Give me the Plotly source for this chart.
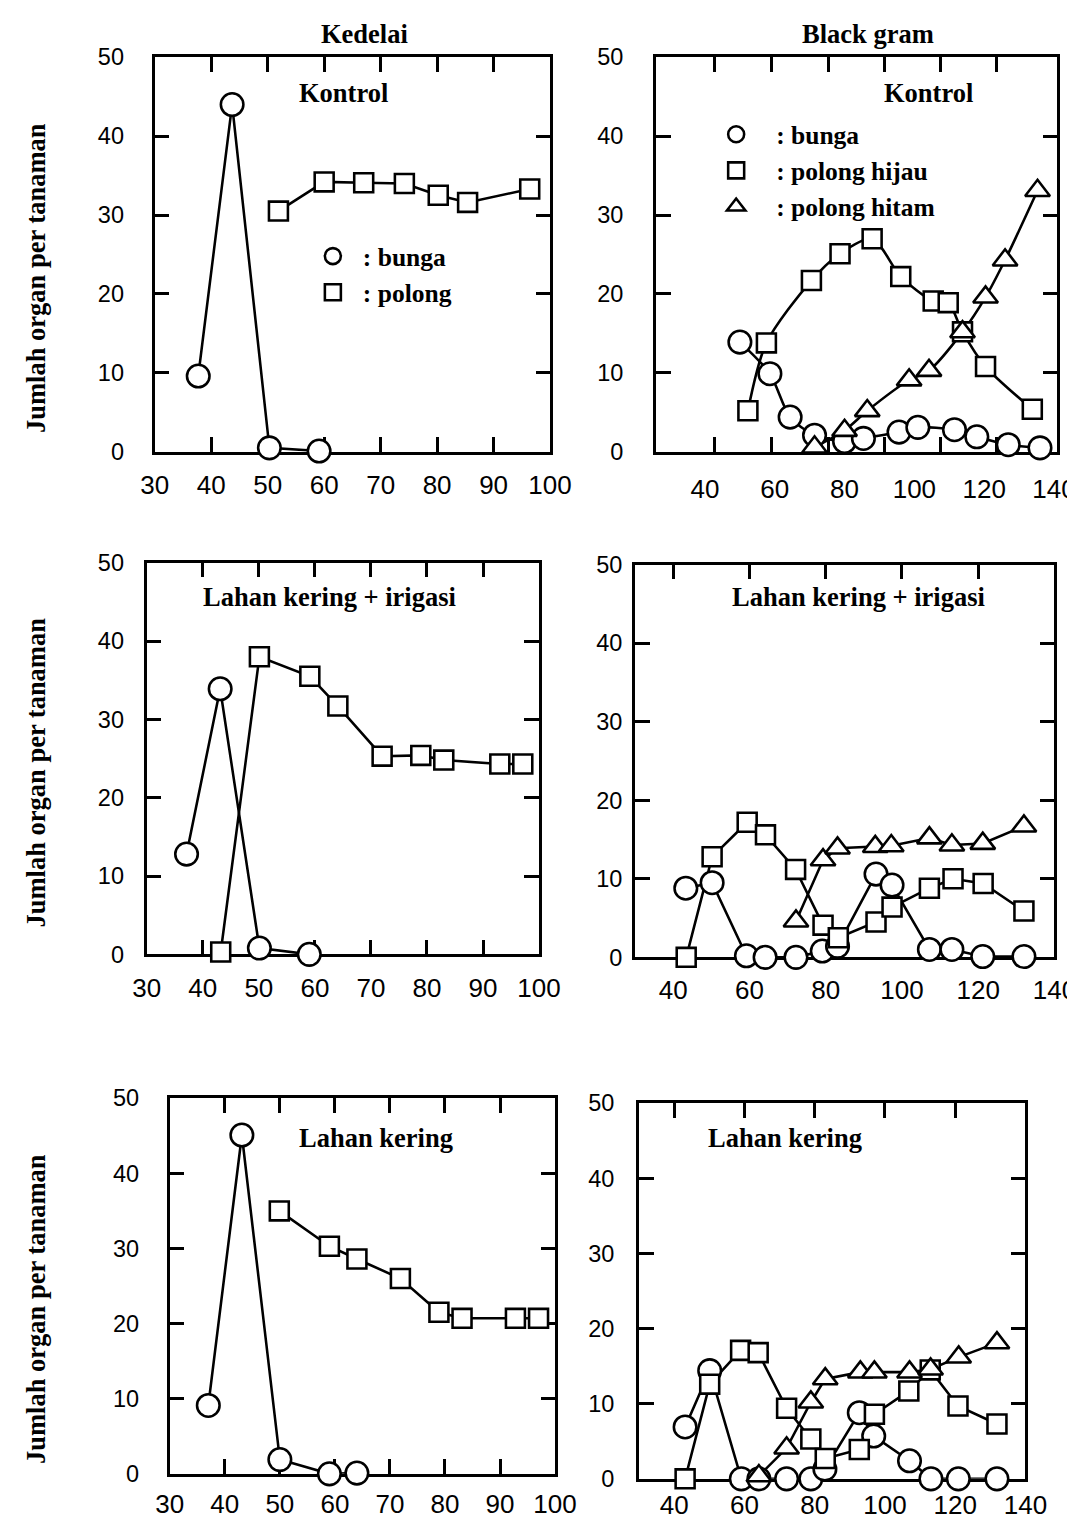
import plotly.graph_objects as go

# figure placed inside the default 8 px page margin
PAD = 8
W, H = 1115, 1535
# measured mapping of page pixels onto the photographed picture
SX, OX, SY, OY = 0.967, 12.6, 0.984, 10.9
S = 1.025  # size compensation for that mapping

# ---------------- data (days after planting vs organs per plant) ----------------
# Kedelai - Kontrol
kk_bunga_x = [37.7, 43.7, 50.3, 59.1]
kk_bunga_y = [9.6, 44.0, 0.5, 0.1]
kk_polong_x = [51.9, 60.0, 67.0, 74.2, 80.2, 85.4, 96.4]
kk_polong_y = [30.5, 34.2, 34.1, 34.0, 32.5, 31.6, 33.3]

# Black gram - Kontrol
bk_bunga_x = [50.0, 58.6, 64.4, 71.4, 80.0, 85.4, 95.6, 101.0, 111.5, 117.9, 126.9, 136.0]
bk_bunga_y = [13.9, 9.9, 4.4, 2.1, 1.3, 1.7, 2.5, 3.1, 2.8, 1.9, 0.9, 0.5]
bk_hijau_x = [52.3, 57.6, 70.5, 78.7, 87.9, 96.1, 105.4, 109.7, 113.8, 120.4, 133.8]
bk_hijau_y = [5.2, 13.8, 21.7, 25.1, 27.0, 22.2, 19.1, 18.9, 15.2, 10.8, 5.4]
bk_hitam_x = [71.4, 80.0, 86.5, 98.5, 104.2, 113.8, 120.4, 126.0, 135.3]
bk_hitam_y = [0.6, 2.7, 5.2, 9.1, 10.3, 15.2, 19.6, 24.3, 33.1]

# Kedelai - Lahan kering + irigasi
ki_bunga_x = [37.1, 43.1, 50.1, 59.0]
ki_bunga_y = [12.8, 33.9, 0.8, 0.0]
ki_polong_x = [43.2, 50.1, 59.1, 64.1, 72.0, 78.9, 83.0, 93.0, 97.1]
ki_polong_y = [0.3, 38.0, 35.5, 31.7, 25.3, 25.4, 24.8, 24.3, 24.3]

# Black gram - Lahan kering + irigasi
bi_bunga_x = [43.3, 50.2, 59.2, 64.1, 72.2, 79.1, 83.1, 93.2, 97.4, 107.2, 113.1, 121.2, 132.0]
bi_bunga_y = [8.8, 9.5, 0.2, 0.0, 0.0, 0.8, 1.4, 10.6, 9.2, 1.0, 1.0, 0.1, 0.1]
bi_hijau_x = [43.4, 50.2, 59.4, 64.2, 72.1, 79.3, 83.3, 93.2, 97.4, 107.2, 113.4, 121.3, 132.0]
bi_hijau_y = [0.0, 12.8, 17.2, 15.6, 11.2, 4.1, 2.5, 4.5, 6.4, 8.8, 10.0, 9.4, 5.9]
bi_hitam_x = [72.2, 79.3, 83.1, 93.0, 97.2, 107.2, 113.1, 121.2, 132.0]
bi_hitam_y = [4.6, 12.4, 13.9, 14.1, 14.2, 15.2, 14.3, 14.5, 16.7]

# Kedelai - Lahan kering
kl_bunga_x = [37.0, 43.1, 50.0, 59.0, 64.0]
kl_bunga_y = [9.1, 45.1, 1.9, 0.0, 0.1]
kl_polong_x = [49.9, 59.0, 64.0, 71.9, 78.9, 83.1, 92.8, 97.0]
kl_polong_y = [35.0, 30.3, 28.6, 26.0, 21.5, 20.7, 20.7, 20.7]

# Black gram - Lahan kering
bl_bunga_x = [43.1, 50.1, 59.1, 64.1, 72.0, 78.9, 82.9, 92.7, 96.8, 107.0, 113.1, 120.9, 131.9]
bl_bunga_y = [6.9, 14.4, 0.0, 0.0, 0.0, 0.0, 1.3, 8.8, 5.7, 2.4, 0.0, 0.0, 0.0]
bl_hijau_x = [43.1, 50.1, 58.9, 63.9, 72.0, 78.9, 83.0, 92.7, 97.0, 106.8, 112.9, 120.8, 131.9]
bl_hijau_y = [0.0, 12.6, 17.1, 16.8, 9.4, 5.3, 2.7, 3.9, 8.6, 11.7, 14.5, 9.7, 7.3]
bl_hitam_x = [64.1, 72.0, 78.9, 83.0, 93.0, 97.0, 107.0, 113.0, 121.0, 131.9]
bl_hitam_y = [0.4, 4.1, 10.2, 13.3, 14.2, 14.2, 14.2, 14.6, 16.2, 18.1]

# axis ticks / labels
kedelai_xlabels = [30, 40, 50, 60, 70, 80, 90, 100]
bg_xlabels = [40, 60, 80, 100, 120, 140]
bg_xticks = [40, 60, 80, 100, 120]
bg_kontrol_xticks = [42.8, 59.1, 75.3, 91.3, 107.5, 123.5]
y_vals = [0, 10, 20, 30, 40, 50]

col_titles = ["Kedelai", "Black gram"]
row_titles = ["Kontrol", "Lahan kering + irigasi", "Lahan kering"]
y_title = "Jumlah organ per tanaman"
names_kedelai = [": bunga", ": polong"]
names_bg = [": bunga", ": polong hijau", ": polong hitam"]

# ---------------- layout geometry (target picture pixels) ----------------
# panel frames: left, right, top, bottom
boxes = {
    1: (153, 548, 55, 450),
    2: (654, 1055, 55, 450),
    3: (145, 537, 561, 953),
    4: (633, 1052, 563, 956),
    5: (168, 553, 1097, 1473),
    6: (637, 1023, 1102, 1478),
}
xranges = {1: [30, 100], 2: [26, 141], 3: [30, 100], 4: [30, 140], 5: [30, 100], 6: [30, 140]}
ystandoff = {1: 23, 2: 25, 3: 15, 4: 5, 5: 23, 6: 17}
xstandoff = {1: 8, 3: 8, 4: 7, 5: 5, 6: 1}


def fx(p):
    return min(1.0, max(0.0, ((p - OX) / SX - PAD) / W))


def fy(q):
    return min(1.0, max(0.0, 1 - ((q - OY) / SY - PAD) / H))


SERIF = dict(family="Liberation Serif", size=26.5, color="black", weight="bold")
SANS_X = dict(family="Liberation Sans", size=26, color="black")
SANS_Y = dict(family="Liberation Sans", size=23.5, color="black")
LW = 2.5 * S
LINE = dict(color="black", width=LW)
MARK = {
    "circle": dict(symbol="circle", size=22 * S, color="white", line=dict(color="black", width=LW)),
    "square": dict(symbol="square", size=18.5 * S, color="white", line=dict(color="black", width=LW)),
    "triangle": dict(symbol="triangle-up", size=21 * S, color="white", line=dict(color="black", width=LW)),
}

fig = go.Figure()


def panel(series, xa, ya, mxa=None, spline=False, legend=None):
    mxa = mxa or xa
    for xs, ys, sym, nm in series:
        fig.add_trace(go.Scatter(
            x=xs, y=ys, mode="lines", xaxis=xa, yaxis=ya, showlegend=False,
            line=dict(LINE, shape="spline" if spline else "linear", smoothing=0.8),
            cliponaxis=False, hoverinfo="skip"))
    for xs, ys, sym, nm in series:
        fig.add_trace(go.Scatter(
            x=xs, y=ys, mode="markers", xaxis=mxa, yaxis=ya, name=nm,
            marker=MARK[sym], showlegend=legend is not None,
            legend=legend or "legend", cliponaxis=False))


panel([(kk_bunga_x, kk_bunga_y, "circle", names_kedelai[0]),
       (kk_polong_x, kk_polong_y, "square", names_kedelai[1])], "x", "y", legend="legend")
panel([(bk_bunga_x, bk_bunga_y, "circle", names_bg[0]),
       (bk_hijau_x, bk_hijau_y, "square", names_bg[1]),
       (bk_hitam_x, bk_hitam_y, "triangle", names_bg[2])], "x2", "y2", mxa="x7",
      spline=True, legend="legend2")
panel([(ki_bunga_x, ki_bunga_y, "circle", names_kedelai[0]),
       (ki_polong_x, ki_polong_y, "square", names_kedelai[1])], "x3", "y3")
panel([(bi_bunga_x, bi_bunga_y, "circle", names_bg[0]),
       (bi_hijau_x, bi_hijau_y, "square", names_bg[1]),
       (bi_hitam_x, bi_hitam_y, "triangle", names_bg[2])], "x4", "y4", mxa="x8")
panel([(kl_bunga_x, kl_bunga_y, "circle", names_kedelai[0]),
       (kl_polong_x, kl_polong_y, "square", names_kedelai[1])], "x5", "y5")
panel([(bl_bunga_x, bl_bunga_y, "circle", names_bg[0]),
       (bl_hijau_x, bl_hijau_y, "square", names_bg[1]),
       (bl_hitam_x, bl_hitam_y, "triangle", names_bg[2])], "x6", "y6", mxa="x9")

TICK = dict(ticklen=14.5, tickwidth=LW, tickcolor="black")
BASE = dict(showgrid=False, zeroline=False, fixedrange=True, layer="below traces")
FRAME = dict(showline=True, linecolor="black", linewidth=3.1)

layout = dict(
    width=W, height=H, margin=dict(l=0, r=0, t=0, b=0),
    paper_bgcolor="white", plot_bgcolor="white", showlegend=True,
)

for i in range(1, 7):
    l, r, t, b = boxes[i]
    xk = "xaxis" if i == 1 else f"xaxis{i}"
    yk = "yaxis" if i == 1 else f"yaxis{i}"
    xid = "x" if i == 1 else f"x{i}"
    yid = "y" if i == 1 else f"y{i}"
    layout[yk] = dict(BASE, **FRAME, domain=[fy(b), fy(t)], range=[0, 50], anchor=xid,
                      mirror="ticks", ticks="inside", tickvals=y_vals, tickfont=SANS_Y,
                      ticklabelstandoff=ystandoff[i], **TICK)
    xd = dict(BASE, **FRAME, domain=[fx(l), fx(r)], range=xranges[i], anchor=yid)
    if i % 2 == 1:
        xd.update(mirror="ticks", ticks="inside", tickvals=kedelai_xlabels,
                  tickfont=SANS_X, ticklabelstandoff=xstandoff[i], **TICK)
    elif i == 2:
        xd.update(mirror="ticks", ticks="inside", tickvals=bg_kontrol_xticks,
                  showticklabels=False, **TICK)
    else:
        xd.update(mirror=True, ticks="", tickvals=bg_xlabels, tickfont=SANS_X,
                  ticklabelstandoff=xstandoff[i])
    layout[xk] = xd

# overlay axes for the black gram panels (labels / ticks at their own places)
layout["xaxis7"] = dict(BASE, overlaying="x2", anchor="y2", side="bottom", range=xranges[2],
                        showline=False, ticks="", tickvals=bg_xlabels, tickfont=SANS_X,
                        ticklabelstandoff=19)
layout["xaxis8"] = dict(BASE, overlaying="x4", anchor="y4", side="top", range=xranges[4],
                        showline=False, ticks="inside", tickvals=bg_xticks,
                        showticklabels=False, **TICK)
layout["xaxis9"] = dict(BASE, overlaying="x6", anchor="y6", side="top", range=xranges[6],
                        showline=False, ticks="inside", tickvals=bg_xticks,
                        showticklabels=False, **TICK)

LEG = dict(font=dict(SERIF, size=25.5), bgcolor="rgba(0,0,0,0)", borderwidth=0,
           xanchor="left", yanchor="top", tracegroupgap=0)
layout["legend"] = dict(LEG, x=fx(301), y=fy(231), itemwidth=50)
layout["legend2"] = dict(LEG, x=fx(694), y=fy(109), itemwidth=70)

ann = []
for txt, cx in zip(col_titles, [363, 866]):
    ann.append(dict(text=txt, x=fx(cx), y=1.0, xref="paper", yref="paper", yshift=4,
                    showarrow=False, font=SERIF, xanchor="center", yanchor="top"))
title_pos = [(342, 91), (926, 91), (328, 595), (856, 595), (374, 1137), (783, 1137)]
for k, (cx, cy) in enumerate(title_pos):
    ann.append(dict(text=row_titles[k // 2], x=fx(cx), y=fy(cy), xref="paper", yref="paper",
                    showarrow=False, font=SERIF, xanchor="center", yanchor="middle"))
for cy in [276, 771, 1308]:
    ann.append(dict(text=y_title, x=0.0, y=fy(cy), xref="paper", yref="paper", xshift=-3,
                    showarrow=False, font=SERIF, textangle=-90,
                    xanchor="left", yanchor="middle"))
layout["annotations"] = ann

fig.update_layout(layout)
fig.write_html("out.html")
